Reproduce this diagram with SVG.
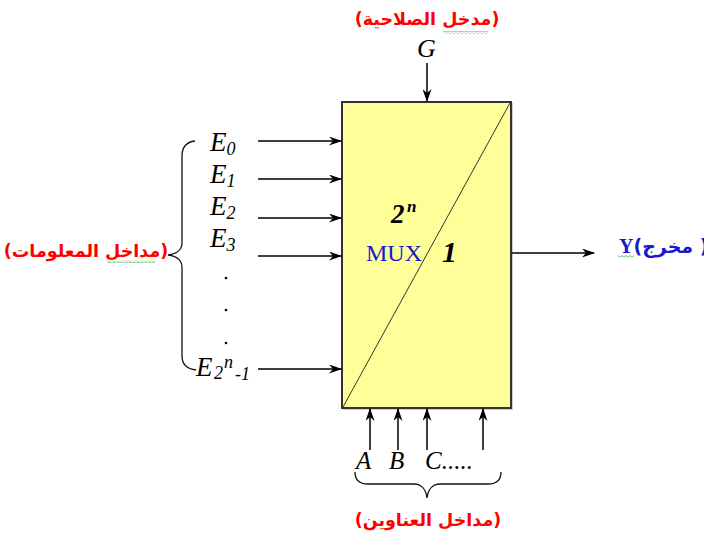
<svg xmlns="http://www.w3.org/2000/svg" width="704" height="536" viewBox="0 0 704 536">
<style>
.it{font-family:"Liberation Serif","Times New Roman",serif;font-style:italic;fill:#000}
.ar{font-family:"DejaVu Sans",sans-serif;font-weight:bold;fill:#f00;font-size:17.5px}
.ln{stroke:#000;stroke-width:1.5;fill:none}
.br{stroke:#111;stroke-width:1.3;fill:none}
</style>
<defs>
<marker id="ah" viewBox="0 0 13 9" refX="12" refY="4.5" markerWidth="13" markerHeight="9" markerUnits="userSpaceOnUse" orient="auto">
<path d="M0,0 L13,4.5 L0,9 L4,4.5 z" fill="#000"/>
</marker>
<pattern id="sq" width="4" height="3" patternUnits="userSpaceOnUse">
<path d="M0,2.5 L2,0.5 L4,2.5" stroke="#3ab03a" stroke-width="0.9" fill="none"/>
</pattern>
</defs>

<g id="mux">
<rect x="343" y="103" width="170" height="307" fill="#999" opacity="0.5"/>
<rect x="342" y="102" width="169" height="306" fill="#ffff99" stroke="#333" stroke-width="2"/>
<line x1="343" y1="407" x2="510" y2="103" stroke="#333" stroke-width="1"/>
<text x="391" y="223" class="it" font-weight="bold" font-size="27">2</text>
<text x="407" y="212" class="it" font-weight="bold" font-size="17">n</text>
<text x="366" y="261" font-family="Liberation Serif,serif" font-size="24" fill="#1818cc">MUX</text>
<text x="442" y="262" class="it" font-weight="bold" font-size="30">1</text>
</g>

<g id="enable">
<text x="427" y="25" class="ar" text-anchor="middle">(مدخل الصلاحية)</text>
<rect x="443" y="31" width="45" height="3" fill="url(#sq)"/>
<text x="417" y="57" class="it" font-size="26">G</text>
</g>

<g id="data-inputs">
<text x="86" y="257" class="ar" text-anchor="middle">(مداخل المعلومات)</text>
<rect x="107" y="260" width="48" height="3" fill="url(#sq)"/>
<path class="br" d="M195,141 C186,142 182,147 182,156 L182,243 C182,250 176,254 168,255 C176,256 182,260 182,267 L182,356 C182,365 187,369 196,370"/>
<text x="210" y="151" class="it" font-size="27">E<tspan font-size="18" dy="4">0</tspan></text>
<text x="210" y="183" class="it" font-size="27">E<tspan font-size="18" dy="4">1</tspan></text>
<text x="210" y="215" class="it" font-size="27">E<tspan font-size="18" dy="4">2</tspan></text>
<text x="210" y="247" class="it" font-size="27">E<tspan font-size="18" dy="4">3</tspan></text>
<circle cx="226" cy="278" r="1.3" fill="#000"/>
<circle cx="226" cy="310" r="1.3" fill="#000"/>
<circle cx="226" cy="343" r="1.3" fill="#000"/>
<text x="196" y="376" class="it" font-size="27">E</text>
<text x="214" y="379" class="it" font-size="18">2</text>
<text x="224" y="368" class="it" font-size="18">n</text>
<text x="235" y="380" class="it" font-size="18">-1</text>
</g>

<g id="address-inputs">
<text x="356" y="469" class="it" font-size="25">A</text>
<text x="389" y="469" class="it" font-size="25">B</text>
<text x="425" y="469" class="it" font-size="25">C.....</text>
<path class="br" d="M355,472 C355,480 360,484 368,484 L414,484 C421,484 426,489 427,498 C428,489 433,484 440,484 L488,484 C496,484 501,480 501,472"/>
<text x="428" y="526" class="ar" text-anchor="middle">(مداخل العناوين)</text>
</g>

<g id="output">
<text x="619" y="253" font-family="Liberation Serif,serif" font-weight="bold" font-size="20" fill="#1818cc">Y<tspan font-family="DejaVu Sans,sans-serif" font-size="19">(مخرج )</tspan></text>
<rect x="618" y="255" width="16" height="3" fill="url(#sq)"/>
</g>

<g id="connectors">
<line class="ln" x1="427" y1="63" x2="427" y2="101" marker-end="url(#ah)"/>
<line class="ln" x1="258" y1="141" x2="341" y2="141" marker-end="url(#ah)"/>
<line class="ln" x1="258" y1="179" x2="341" y2="179" marker-end="url(#ah)"/>
<line class="ln" x1="258" y1="218" x2="341" y2="218" marker-end="url(#ah)"/>
<line class="ln" x1="258" y1="256" x2="341" y2="256" marker-end="url(#ah)"/>
<line class="ln" x1="258" y1="369" x2="341" y2="369" marker-end="url(#ah)"/>
<line class="ln" x1="512" y1="253" x2="594" y2="253" marker-end="url(#ah)"/>
<line class="ln" x1="370" y1="450" x2="370" y2="409" marker-end="url(#ah)"/>
<line class="ln" x1="398" y1="450" x2="398" y2="409" marker-end="url(#ah)"/>
<line class="ln" x1="427" y1="450" x2="427" y2="409" marker-end="url(#ah)"/>
<line class="ln" x1="483" y1="450" x2="483" y2="409" marker-end="url(#ah)"/>
</g>
</svg>
